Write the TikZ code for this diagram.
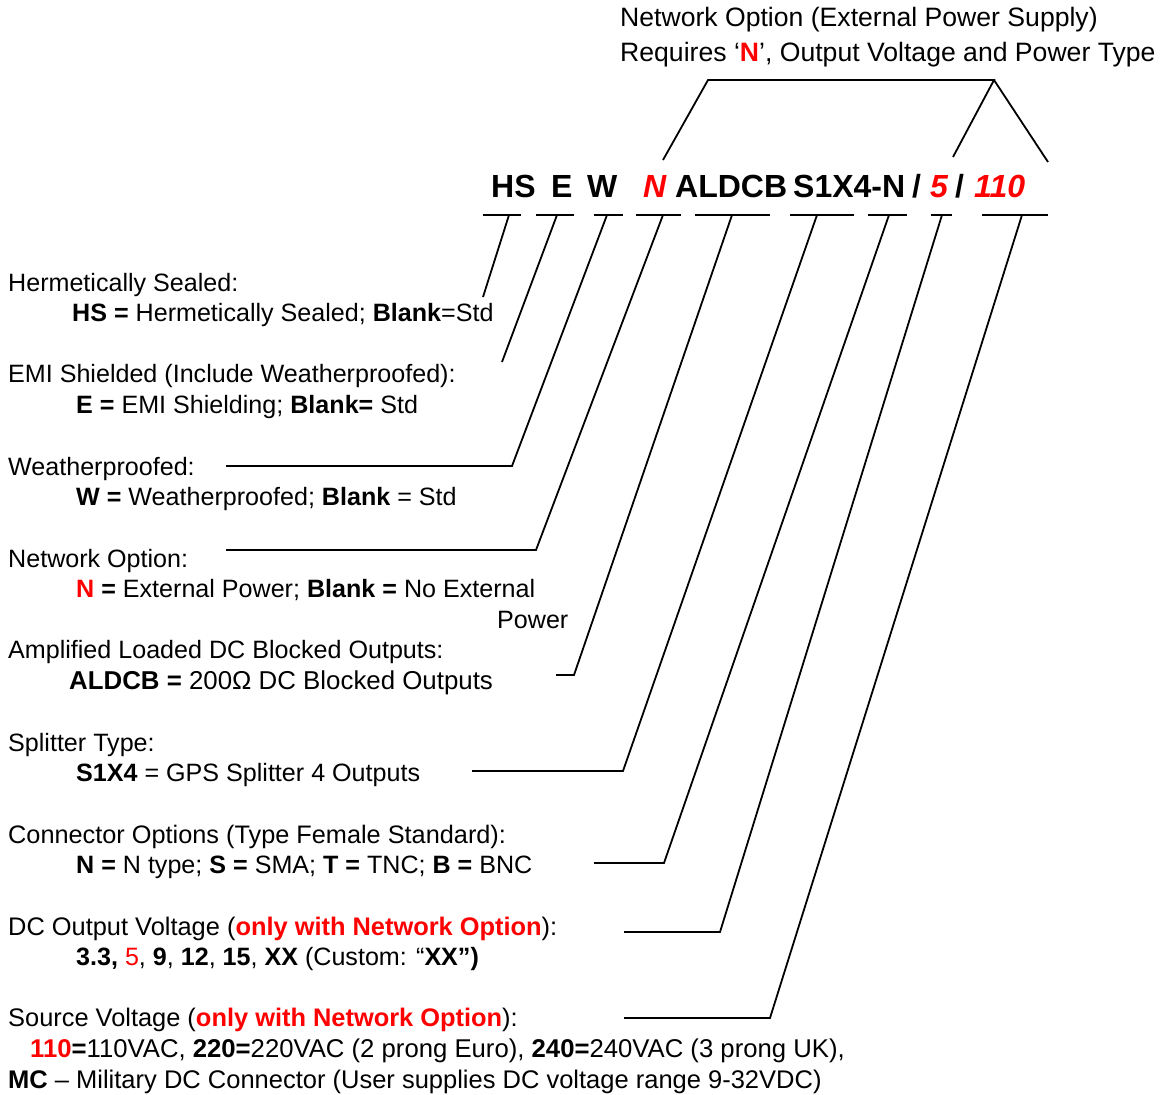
\documentclass[tikz,border=0pt]{standalone}
\usepackage{fontspec}
\setmainfont{Liberation Sans}
\begin{document}
\begin{tikzpicture}[x=1pt,y=-1pt,
  txt/.style={anchor=base west,inner sep=0pt,font=\fontsize{25.1}{30}\selectfont},
  fs/.style={font=\fontsize{#1}{30}\selectfont},
  toptxt/.style={anchor=base west,inner sep=0pt,font=\fontsize{26.6}{31}\selectfont},
  code/.style={anchor=base west,inner sep=0pt,font=\fontsize{32}{38}\selectfont\bfseries},
  redcode/.style={code,text=red,font=\fontsize{32}{38}\selectfont\bfseries\itshape},
  ln/.style={line width=1.8pt,line join=miter}]
\useasboundingbox (0,0) rectangle (1168,1095);
\definecolor{red}{RGB}{255,0,0}

% top texts
\node[toptxt] (top1) at (620,26) {Network Option (External Power Supply)};
\node[toptxt] (top2) at (620,61) {Requires ‘\textbf{\color{red}N}’, Output Voltage and Power Type};

% code line
\node[code] (cHS) at (491,197) {HS};
\node[code] (cE) at (551,197) {E};
\node[code] (cW) at (587,197) {W};
\node[redcode] (cN) at (643,197) {N};
\node[code] (cA) at (675,197) {ALDCB};
\node[code] (cS) at (793,197) {S1X4-N};
\node[code] (cs1) at (912,197) {/};
\node[redcode] (c5) at (930,197) {5};
\node[code] (cs2) at (955,197) {/};
\node[redcode] (c110) at (974,197) {110};

% trapezoid
\coordinate (p1) at (663,160);
\coordinate (p2) at (708,80);
\coordinate (p3) at (994,80);
\coordinate (p4) at (953,157);
\coordinate (p5) at (1048,162);
\draw[ln] (p1) -- (p2) -- (p3) -- (p4);
\draw[ln] (p3) -- (p5);

% left texts
\node[txt] (l1a) at (8,291) {Hermetically Sealed:};
\node[txt] (l1b) at (72,321) {\textbf{HS =} Hermetically Sealed; \textbf{Blank}=Std};
\node[txt] (l2a) at (8,382) {EMI Shielded (Include Weatherproofed):};
\node[txt] (l2b) at (76,413) {\textbf{E =} EMI Shielding; \textbf{Blank=} Std};
\node[txt] (l3a) at (8,475) {Weatherproofed:};
\node[txt] (l3b) at (76,505) {\textbf{W =} Weatherproofed; \textbf{Blank} = Std};
\node[txt] (l4a) at (8,567) {Network Option:};
\node[txt] (l4b) at (76,597) {\textbf{\color{red}N} \textbf{=} External Power; \textbf{Blank =} No External};
\node[txt] (l4c) at (497,628) {Power};
\node[txt] (l5a) at (8,658) {Amplified Loaded DC Blocked Outputs:};
\node[txt,fs=25.85] (l5b) at (69,689) {\textbf{ALDCB =} 200Ω DC Blocked Outputs};
\node[txt] (l6a) at (8,751) {Splitter Type:};
\node[txt] (l6b) at (76,781) {\textbf{S1X4} = GPS Splitter 4 Outputs};
\node[txt,fs=25.3] (l7a) at (8,843) {Connector Options (Type Female Standard):};
\node[txt] (l7b) at (76,873) {\textbf{N =} N type; \textbf{S =} SMA; \textbf{T =} TNC; \textbf{B =} BNC};
\node[txt,fs=25.4] (l8a) at (8,935) {DC Output Voltage (\textbf{\color{red}only with Network Option}):};
\node[txt] (l8b) at (76,965) {\textbf{3.3,} {\color{red}5}, \textbf{9}, \textbf{12}, \textbf{15}, \textbf{XX} (Custom: “\textbf{XX”)}};
\node[txt,fs=25.4] (l9a) at (8,1026) {Source Voltage (\textbf{\color{red}only with Network Option}):};
\node[txt,fs=25.7] (l9b) at (30,1057) {\textbf{\color{red}110}\textbf{=}110VAC, \textbf{220=}220VAC (2 prong Euro), \textbf{240=}240VAC (3 prong UK),};
\node[txt,fs=25.5] (l9c) at (8,1088) {\textbf{MC} – Military DC Connector (User supplies DC voltage range 9-32VDC)};

% underlines
\coordinate (u1a) at (483,215); \coordinate (u1b) at (521,215);
\coordinate (u2a) at (536,215); \coordinate (u2b) at (574,215);
\coordinate (u3a) at (594,215); \coordinate (u3b) at (623,215);
\coordinate (u4a) at (636,215); \coordinate (u4b) at (681,215);
\coordinate (u5a) at (695,215); \coordinate (u5b) at (770,215);
\coordinate (u6a) at (790,215); \coordinate (u6b) at (854,215);
\coordinate (u7a) at (868,215); \coordinate (u7b) at (907,215);
\coordinate (u8a) at (931,215); \coordinate (u8b) at (952,215);
\coordinate (u9a) at (982,215); \coordinate (u9b) at (1048,215);
\foreach \i in {1,...,9} {\draw[ln] (u\i a) -- (u\i b);}

% slant connectors
\coordinate (t1) at (509,215); \coordinate (b1) at (483,297);
\coordinate (t2) at (557,215); \coordinate (b2) at (502,362);
\coordinate (t3) at (607,215); \coordinate (b3) at (512,466); \coordinate (e3) at (226,466);
\coordinate (t4) at (663,215); \coordinate (b4) at (536,550); \coordinate (e4) at (226,550);
\coordinate (t5) at (732,215); \coordinate (b5) at (574,675); \coordinate (e5) at (556,675);
\coordinate (t6) at (817,215); \coordinate (b6) at (623,771); \coordinate (e6) at (472,771);
\coordinate (t7) at (889,215); \coordinate (b7) at (664,863); \coordinate (e7) at (594,863);
\coordinate (t8) at (942,215); \coordinate (b8) at (720,932); \coordinate (e8) at (624,932);
\coordinate (t9) at (1022,215); \coordinate (b9) at (770,1018); \coordinate (e9) at (624,1018);
\draw[ln] (t1) -- (b1);
\draw[ln] (t2) -- (b2);
\draw[ln] (t3) -- (b3) -- (e3);
\draw[ln] (t4) -- (b4) -- (e4);
\draw[ln] (t5) -- (b5) -- (e5);
\draw[ln] (t6) -- (b6) -- (e6);
\draw[ln] (t7) -- (b7) -- (e7);
\draw[ln] (t8) -- (b8) -- (e8);
\draw[ln] (t9) -- (b9) -- (e9);
\end{tikzpicture}
\end{document}
